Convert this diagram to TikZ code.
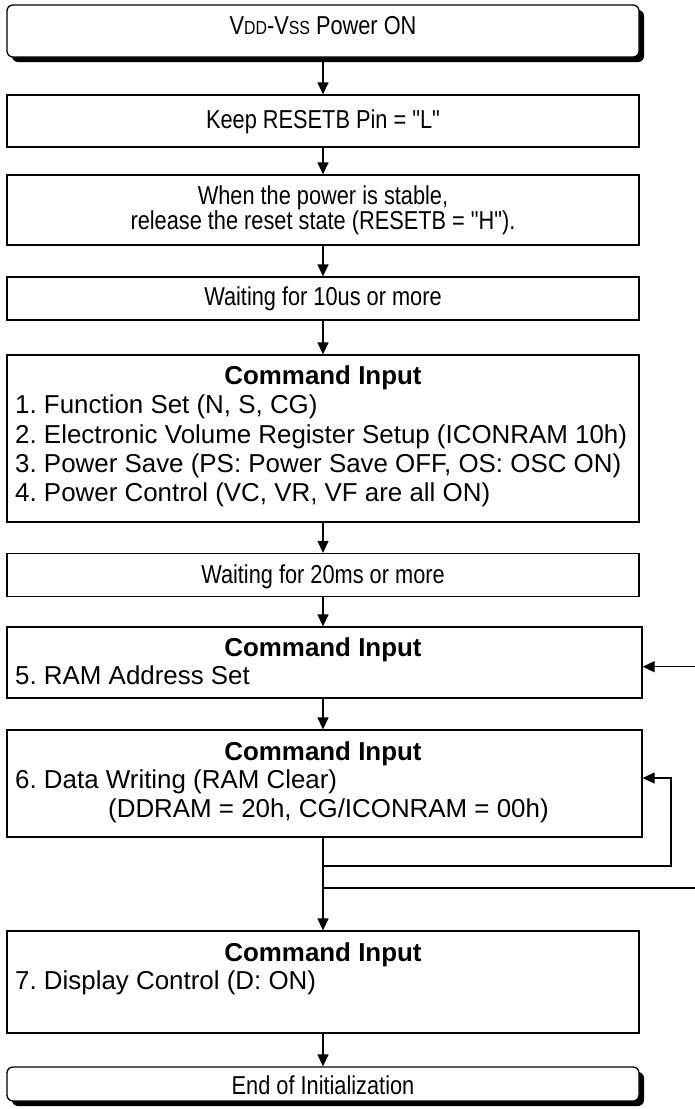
\documentclass[tikz,border=0pt]{standalone}
\usepackage{fontspec}
\setmainfont{Liberation Sans}
\newfontfamily\nfam[FakeStretch=0.84]{Liberation Sans}
\usetikzlibrary{arrows.meta,shadows}
\newcommand{\fsB}{\fontsize{26}{26}\selectfont\frenchspacing}
\newcommand{\fsA}{\nfam\fontsize{26}{26}\selectfont\frenchspacing}
\newcommand{\smc}[1]{{\fontsize{19}{19}\selectfont #1}}
\begin{document}
\begin{tikzpicture}[x=1bp,y=-1bp,
  box/.style={draw, line width=1.3bp, fill=white, minimum width=632bp, inner sep=0pt},
  term/.style={box, rounded corners=6bp, drop shadow={shadow xshift=5bp, shadow yshift=-5bp, fill=black, opacity=1}},
  flow/.style={line width=1.3bp, -{Triangle[length=12bp,width=11bp]}},
  lbl/.style={anchor=base west, inner sep=0pt, font=\fsB},
  ctr/.style={anchor=base, inner sep=0pt, font=\fsA},
  ttl/.style={anchor=base, inner sep=0pt, font=\fsB\bfseries}]
\useasboundingbox (0,0) rectangle (695,1109);
% boxes
\node[term, minimum height=52bp] (b1) at (323,31) {};
\node[box, minimum height=52bp] (b2) at (323,121) {};
\node[box, minimum height=70bp] (b3) at (323,210) {};
\node[box, minimum height=43bp] (b4) at (323,298.5) {};
\node[box, minimum height=167bp] (b5) at (323,438.5) {};
\node[box, minimum height=43bp] (b6) at (323,575) {};
\node[box, minimum width=635bp, minimum height=71bp] (b7) at (324.5,662.5) {};
\node[box, minimum width=635bp, minimum height=107bp] (b8) at (324.5,783.5) {};
\node[box, minimum height=102bp] (b9) at (323,982) {};
\node[term, minimum height=34bp] (b10) at (323,1084) {};
% single texts
\node[ctr] (t1) at (323,34) {V\smc{DD}-V\smc{SS} Power ON};
\node[ctr] (t2) at (323,128) {Keep RESETB Pin = "L"};
\node[ctr] (t3a) at (323,204) {When the power is stable,};
\node[ctr] (t3b) at (323,229) {release the reset state (RESETB = "H").};
\node[ctr] (t4) at (323,305) {Waiting for 10us or more};
\node[ctr] (t6) at (323,583) {Waiting for 20ms or more};
\node[ctr] (t10) at (323,1094) {End of Initialization};
% texts in box 5
\node[ttl] (t5) at (323,384) {Command Input};
\node[lbl] (l51) at (15,413) {1. Function Set (N, S, CG)};
\node[lbl] (l52) at (15,443) {2. Electronic Volume Register Setup (ICONRAM 10h)};
\node[lbl] (l53) at (15,472) {3. Power Save (PS: Power Save OFF, OS: OSC ON)};
\node[lbl] (l54) at (15,501) {4. Power Control (VC, VR, VF are all ON)};
% texts in box 7
\node[ttl] (t7) at (323,656) {Command Input};
\node[lbl] (l71) at (15,684) {5. RAM Address Set};
% texts in box 8
\node[ttl] (t8) at (323,760) {Command Input};
\node[lbl] (l81) at (15,788) {6. Data Writing (RAM Clear)};
\node[lbl] (l82) at (108,817) {(DDRAM = 20h, CG/ICONRAM = 00h)};
% texts in box 9
\node[ttl] (t9) at (323,961) {Command Input};
\node[lbl] (l91) at (15,989) {7. Display Control (D: ON)};
% connectors
\draw[flow] (b1.south) -- (b2.north);
\draw[flow] (b2.south) -- (b3.north);
\draw[flow] (b3.south) -- (b4.north);
\draw[flow] (b4.south) -- (b5.north);
\draw[flow] (b5.south) -- (b6.north);
\draw[flow] (b6.south) -- (b7.north -| b6.south);
\draw[flow] (b7.south -| b6.south) -- (b8.north -| b6.south);
\draw[flow] (b8.south -| b6.south) -- (b9.north);
\draw[flow] (b9.south) -- (b10.north);
\coordinate (j1) at (323,866);
\coordinate (r1) at (671,866);
\coordinate (j2) at (323,888);
\coordinate (r2) at (700,888);
\draw[flow] (j1) -- (r1) |- ([yshift=5.5bp]b8.east);
\draw[flow] (j2) -- (r2) |- ([yshift=-4.2bp]b7.east);
\end{tikzpicture}
\end{document}
